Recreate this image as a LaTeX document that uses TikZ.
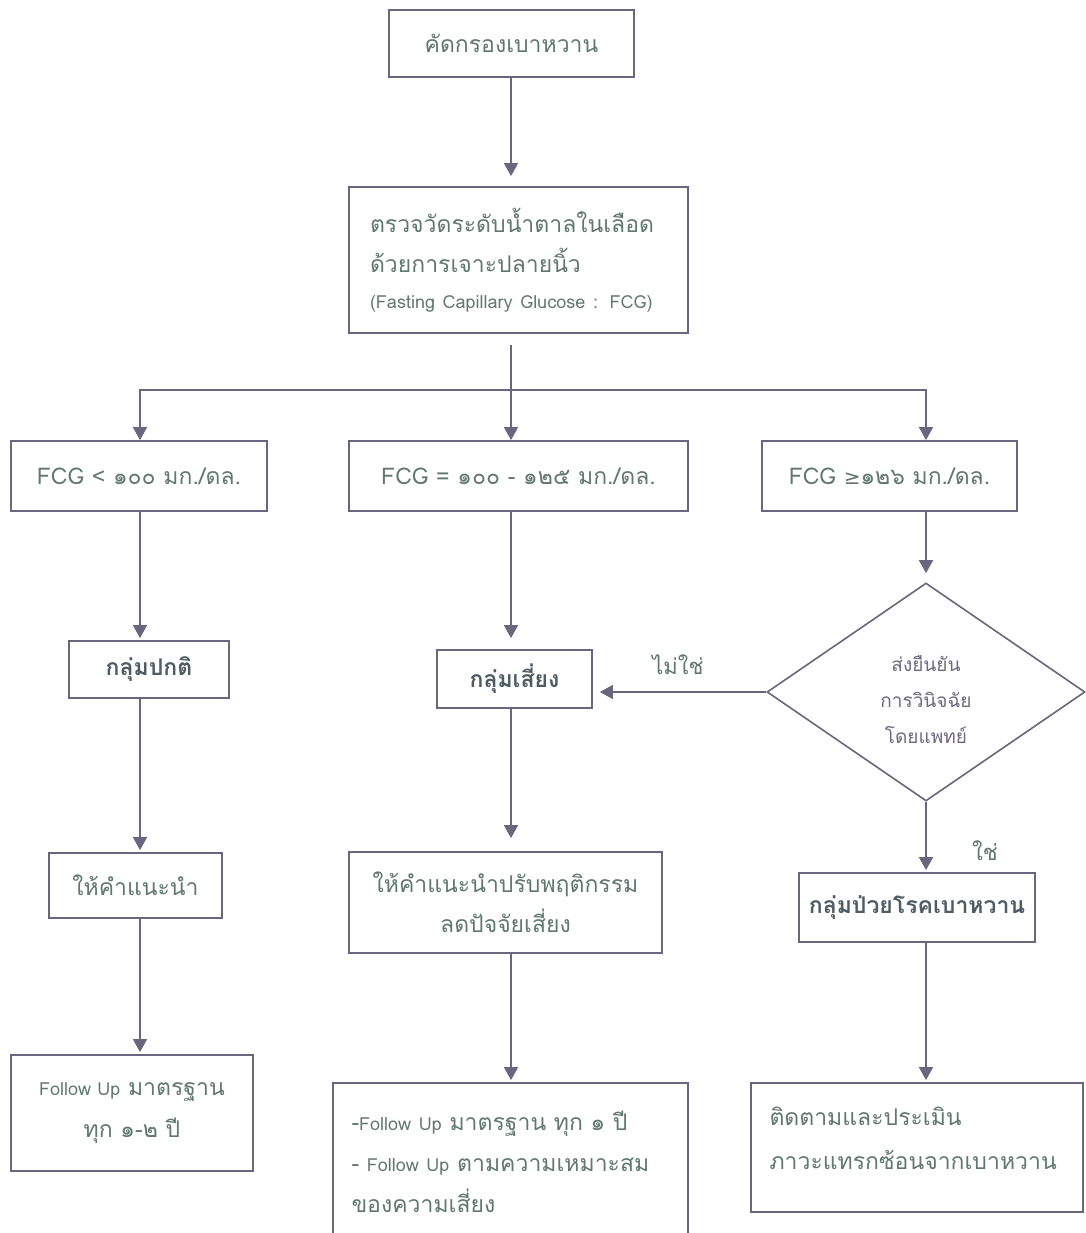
\documentclass[tikz,border=0pt]{standalone}
\usepackage{fontspec}
\setmainfont[Script=Thai]{Loma}
\newfontfamily\symfont{DejaVu Sans}
\usetikzlibrary{arrows.meta,shapes.geometric}
\definecolor{ln}{RGB}{105,102,125}
\definecolor{tx}{RGB}{96,120,112}
\definecolor{txb}{RGB}{78,92,100}
\definecolor{txd}{RGB}{110,105,125}
\begin{document}
\begin{tikzpicture}[x=1pt,y=-1pt,
  box/.style={draw=ln,line width=1.8pt,fill=white,text=tx,inner sep=0pt,align=center,font=\fontsize{23}{40}\selectfont},
  bbox/.style={box,text=txb,font=\bfseries\fontsize{23}{40}\selectfont},
  conn/.style={draw=ln,line width=1.6pt},
  arr/.style={conn,-{Triangle[width=14pt,length=13pt]}},
  lab/.style={text=tx,inner sep=0pt,font=\fontsize{22}{30}\selectfont}]
\useasboundingbox[fill=white] (0,0) rectangle (1085,1233);
% boxes
\node[box,minimum width=245pt,minimum height=67pt] (b1) at (511.5,43.5) {คัดกรองเบาหวาน};
\node[box,minimum width=339pt,minimum height=146pt,text width=297pt,align=left] (b2) at (518.5,260)
  {ตรวจวัดระดับน้ำตาลในเลือด\\ด้วยการเจาะปลายนิ้ว\\[-4pt]{\fontsize{18}{30}\selectfont (Fasting Capillary Glucose : FCG)}};
\node[box,minimum width=256pt,minimum height=70pt] (b3a) at (139,476) {FCG < ๑๐๐ มก./ดล.};
\node[box,minimum width=339pt,minimum height=70pt] (b3b) at (518.5,476) {FCG = ๑๐๐ - ๑๒๕ มก./ดล.};
\node[box,minimum width=255pt,minimum height=70pt] (b3c) at (889.5,476) {FCG {\symfont\fontsize{20}{30}\selectfont ≥}๑๒๖ มก./ดล.};
\node[bbox,minimum width=160pt,minimum height=57pt] (b4a) at (149,669.5) {กลุ่มปกติ};
\node[bbox,minimum width=155pt,minimum height=58pt] (b4b) at (514.5,679) {กลุ่มเสี่ยง};
\node[draw=ln,line width=1.6pt,diamond,aspect=1.46,minimum width=318pt,minimum height=218pt,inner sep=0pt,
  text=txd,font=\fontsize{19}{36}\selectfont] (d) at (926,692)
  {\raisebox{-8pt}[\height][\depth]{\parbox{150pt}{\centering ส่งยืนยัน\\การวินิจฉัย\\โดยแพทย์}}};
\node[bbox,minimum width=236pt,minimum height=69pt] (b4c) at (917,907.5) {กลุ่มป่วยโรคเบาหวาน};
\node[box,minimum width=173pt,minimum height=65pt] (b5a) at (135.5,885.5) {ให้คำแนะนำ};
\node[box,minimum width=313pt,minimum height=101pt] (b5b) at (505.5,902.5) {ให้คำแนะนำปรับพฤติกรรม\\ลดปัจจัยเสี่ยง};
\node[box,minimum width=242pt,minimum height=116pt,font=\fontsize{23}{42}\selectfont] (b6a) at (132,1113)
  {{\fontsize{18}{30}\selectfont Follow Up} มาตรฐาน\\ทุก ๑-๒ ปี};
\node[box,minimum width=355pt,minimum height=158pt,text width=318pt,align=left,font=\fontsize{23}{41}\selectfont] (b6b) at (510.5,1162)
  {-{\fontsize{18}{30}\selectfont Follow Up} มาตรฐาน ทุก ๑ ปี\\- {\fontsize{18}{30}\selectfont Follow Up} ตามความเหมาะสม\\ของความเสี่ยง};
\node[box,minimum width=332pt,minimum height=129pt,font=\fontsize{23}{44}\selectfont] (b6c) at (917,1147.5)
  {\raisebox{9pt}[\height][\depth]{\parbox{295pt}{\raggedright ติดตามและประเมิน\\ภาวะแทรกซ้อนจากเบาหวาน}}};
% column coordinates
\coordinate (cL) at (140,0);
\coordinate (cM) at (511,0);
\coordinate (cR) at (926,0);
\coordinate (s2) at (511,345);
\coordinate (j) at (511,390);
% connectors
\draw[arr,shorten >=10pt] (b1.south -| cM) -- (b2.north -| cM);
\draw[conn] (s2) -- (j);
\draw[arr] (j) -| (b3a.north -| cL);
\draw[arr] (j) -- (b3b.north -| cM);
\draw[arr] (j) -| (b3c.north -| cR);
\draw[arr,shorten >=2pt] (b3a.south -| cL) -- (b4a.north -| cL);
\draw[arr,shorten >=2pt] (b4a.south -| cL) -- (b5a.north -| cL);
\draw[arr,shorten >=2pt] (b5a.south -| cL) -- (b6a.north -| cL);
\draw[arr,shorten >=11pt] (b3b.south -| cM) -- (b4b.north -| cM);
\draw[arr,shorten >=13pt] (b4b.south -| cM) -- (b5b.north -| cM);
\draw[arr,shorten >=2pt] (b5b.south -| cM) -- (b6b.north -| cM);
\draw[arr,shorten >=9pt] (b3c.south -| cR) -- (d.north);
\draw[arr,shorten >=2pt] (d.south) -- (b4c.north -| cR);
\draw[arr,shorten >=2pt] (b4c.south -| cR) -- (b6c.north -| cR);
\draw[arr,shorten >=7pt] (d.west) -- (d.west -| b4b.east);
% labels
\node[lab] (no) at (678,665) {ไม่ใช่};
\node[lab] (yes) at (985,851) {ใช่};
\end{tikzpicture}
\end{document}
